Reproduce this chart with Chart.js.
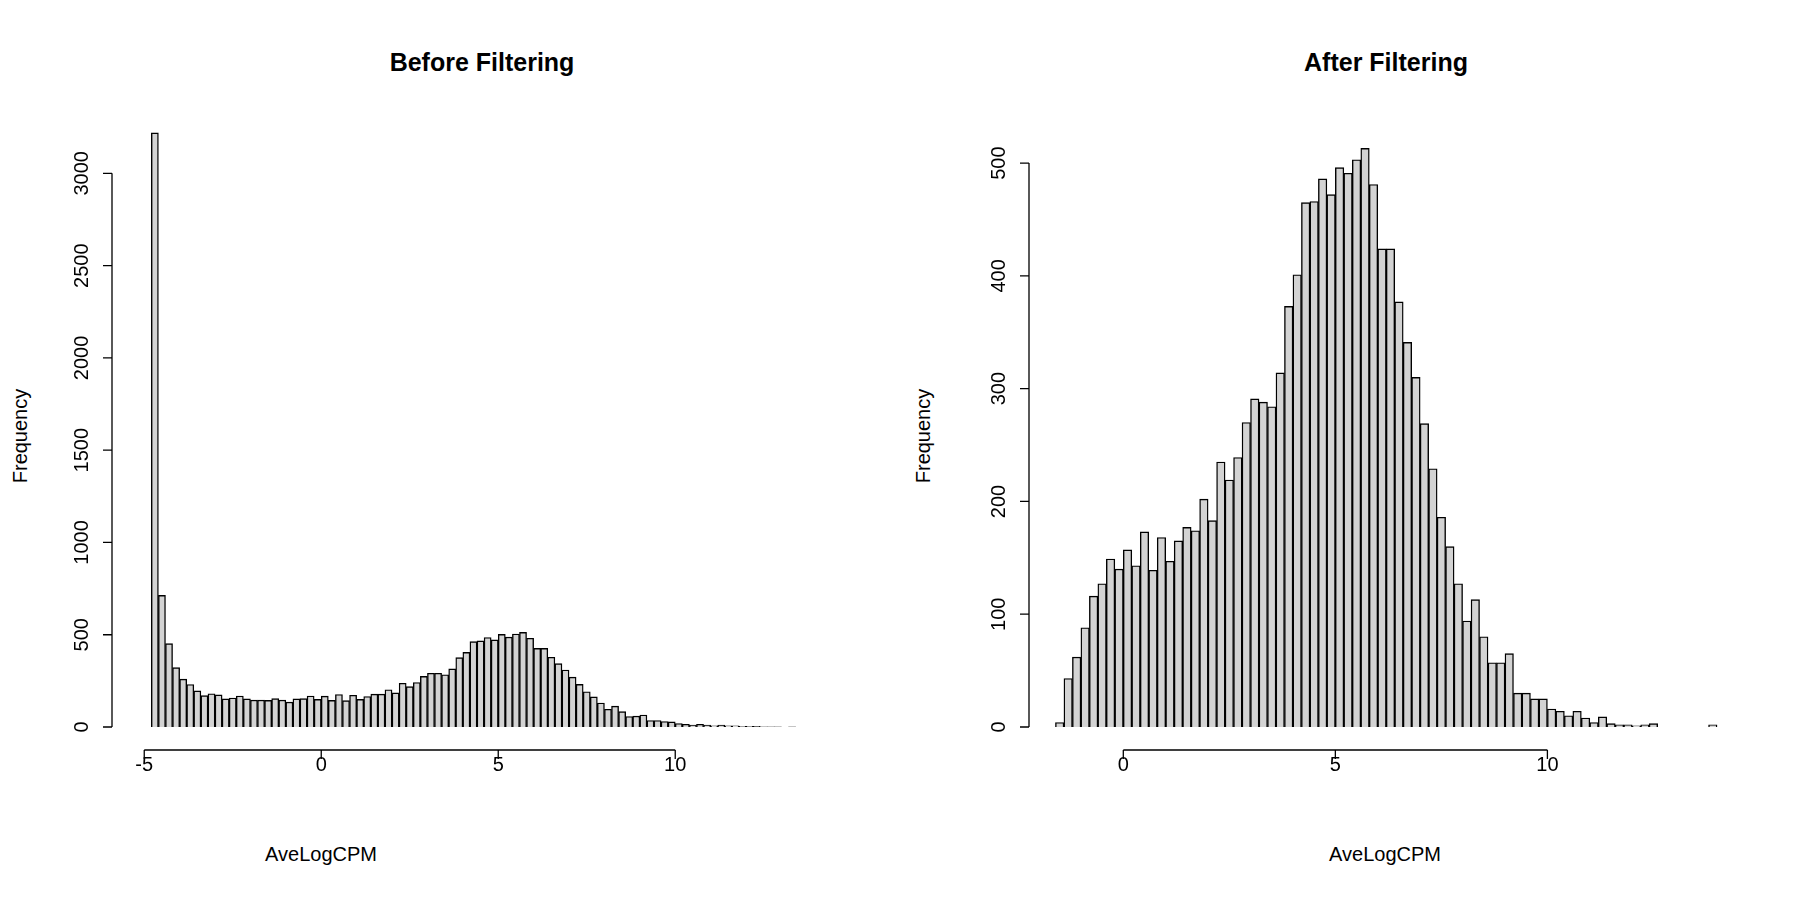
<!DOCTYPE html>
<html lang="en">
<head>
<meta charset="UTF-8">
<title>AveLogCPM histograms</title>
<script src="https://cdn.jsdelivr.net/npm/chart.js"></script>
<style>
  body { margin: 0; background: #fff; width: 1800px; height: 900px; position: relative; overflow: hidden; font-family: "Liberation Sans", Arial, sans-serif; }
  canvas { position: absolute; top: 0; }
  .title { position: absolute; top: 48px; font-weight: bold; font-size: 25px; transform: translateX(-50%); }
  .xlab { position: absolute; top: 843px; font-size: 20px; transform: translateX(-50%); }
  .ylab { position: absolute; top: 436px; font-size: 20px; transform: translate(-50%, -50%) rotate(-90deg); }
</style>
</head>
<body>
<div class="title" style="left:482px">Before Filtering</div>
<div class="title" style="left:1386px">After Filtering</div>
<div class="xlab" style="left:321px">AveLogCPM</div>
<div class="xlab" style="left:1385px">AveLogCPM</div>
<div class="ylab" style="left:20px">Frequency</div>
<div class="ylab" style="left:923px">Frequency</div>
<canvas id="before" width="900" height="900" style="left:0"></canvas>
<canvas id="after" width="900" height="900" style="left:900px"></canvas>

<script>
    // histogram bins are 0.2 wide
    const binWidth = 0.2;
    const beforeStart = -4.8;
    const beforeCounts = [
        3219, 713, 452, 322, 259, 230, 196, 170, 180, 174,
        152, 157, 168, 152, 146, 146, 144, 154, 146, 135,
        152, 154, 168, 150, 167, 144, 176, 143, 172, 150,
        165, 178, 178, 202, 185, 237, 219, 241, 274, 291,
        291, 283, 315, 376, 404, 463, 467, 485, 472, 502,
        487, 504, 513, 481, 426, 426, 378, 343, 309, 270,
        231, 191, 163, 130, 96, 113, 83, 57, 59, 65,
        35, 35, 30, 28, 19, 15, 11, 15, 11, 7,
        11, 6, 6, 4, 4, 3, 1, 1, 1, 0,
        1, 0, 0, 0, 0
    ];
    const afterStart = -1.6;
    const afterCounts = [
        4, 43, 62, 88, 116, 127, 149, 140, 157, 143,
        173, 139, 168, 147, 165, 177, 174, 202, 183, 235,
        219, 239, 270, 291, 288, 284, 314, 373, 401, 465,
        466, 486, 472, 496, 491, 503, 513, 481, 424, 424,
        377, 341, 310, 269, 229, 186, 160, 127, 94, 113,
        80, 57, 57, 65, 30, 30, 25, 25, 16, 14,
        10, 14, 8, 4, 9, 3, 2, 2, 1, 2,
        3, 0, 0, 0, 0, 0, 0, 2
    ];
    const beforeXTicks = [-5, 0, 5, 10];
    const beforeYTicks = [0, 500, 1000, 1500, 2000, 2500, 3000];
    const afterXTicks = [0, 5, 10];
    const afterYTicks = [0, 100, 200, 300, 400, 500];

    function toPoints(start, counts) {
        return counts.map((c, i) => ({ x: start + binWidth * (i + 0.5), y: c }));
    }

    // R style axes: detached lines spanning only the tick range
    const rAxes = {
        id: "rAxes",
        afterDraw(chart, args, opts) {
            const ctx = chart.ctx;
            const xs = chart.scales.x, ys = chart.scales.y;
            ctx.save();
            ctx.strokeStyle = "#000";
            ctx.fillStyle = "#000";
            ctx.lineWidth = 1.3;
            ctx.font = "20px 'Liberation Sans', Arial, sans-serif";
            // x axis
            const xa = opts.xTicks, y0 = opts.xAxisY;
            ctx.beginPath();
            ctx.moveTo(xs.getPixelForValue(xa[0]), y0);
            ctx.lineTo(xs.getPixelForValue(xa[xa.length - 1]), y0);
            xa.forEach(v => {
                const px = xs.getPixelForValue(v);
                ctx.moveTo(px, y0);
                ctx.lineTo(px, y0 + 9);
            });
            ctx.stroke();
            ctx.textAlign = "center";
            ctx.textBaseline = "middle";
            xa.forEach(v => ctx.fillText(String(v), xs.getPixelForValue(v), 765));
            // y axis
            const ya = opts.yTicks, x0 = opts.yAxisX;
            ctx.beginPath();
            ctx.moveTo(x0, ys.getPixelForValue(ya[0]));
            ctx.lineTo(x0, ys.getPixelForValue(ya[ya.length - 1]));
            ya.forEach(v => {
                const py = ys.getPixelForValue(v);
                ctx.moveTo(x0, py);
                ctx.lineTo(x0 - 9, py);
            });
            ctx.stroke();
            ya.forEach(v => {
                ctx.save();
                ctx.translate(x0 - 30, ys.getPixelForValue(v));
                ctx.rotate(-Math.PI / 2);
                ctx.fillText(String(v), 0, 0);
                ctx.restore();
            });
            ctx.restore();
        }
    };

    function makeHist(id, start, counts, xmin, xmax, ymax, pad, axisOpts) {
        new Chart(document.getElementById(id), {
            type: "bar",
            data: {
                datasets: [{
                    data: toPoints(start, counts),
                    backgroundColor: "#d3d3d3",
                    borderColor: "#000",
                    borderWidth: 1.4,
                    barPercentage: 1,
                    categoryPercentage: 1
                }]
            },
            options: {
                responsive: false,
                animation: false,
                layout: { padding: pad },
                plugins: { legend: { display: false }, tooltip: { enabled: false }, rAxes: axisOpts },
                scales: {
                    x: { type: "linear", min: xmin, max: xmax, offset: false, display: false },
                    y: { min: 0, max: ymax, display: false }
                }
            },
            plugins: [rAxes]
        });
    }

    makeHist("before", beforeStart, beforeCounts, -5.6, 14.4, 3300,
        { left: 123, right: 69, top: 118, bottom: 173 },
        { xTicks: beforeXTicks, yTicks: beforeYTicks, xAxisY: 750, yAxisX: 112 });
    makeHist("after", afterStart, afterCounts, -2.2, 14.4, 540,
        { left: 130, right: 66, top: 118, bottom: 173 },
        { xTicks: afterXTicks, yTicks: afterYTicks, xAxisY: 750, yAxisX: 129 });
</script>
</body>
</html>
